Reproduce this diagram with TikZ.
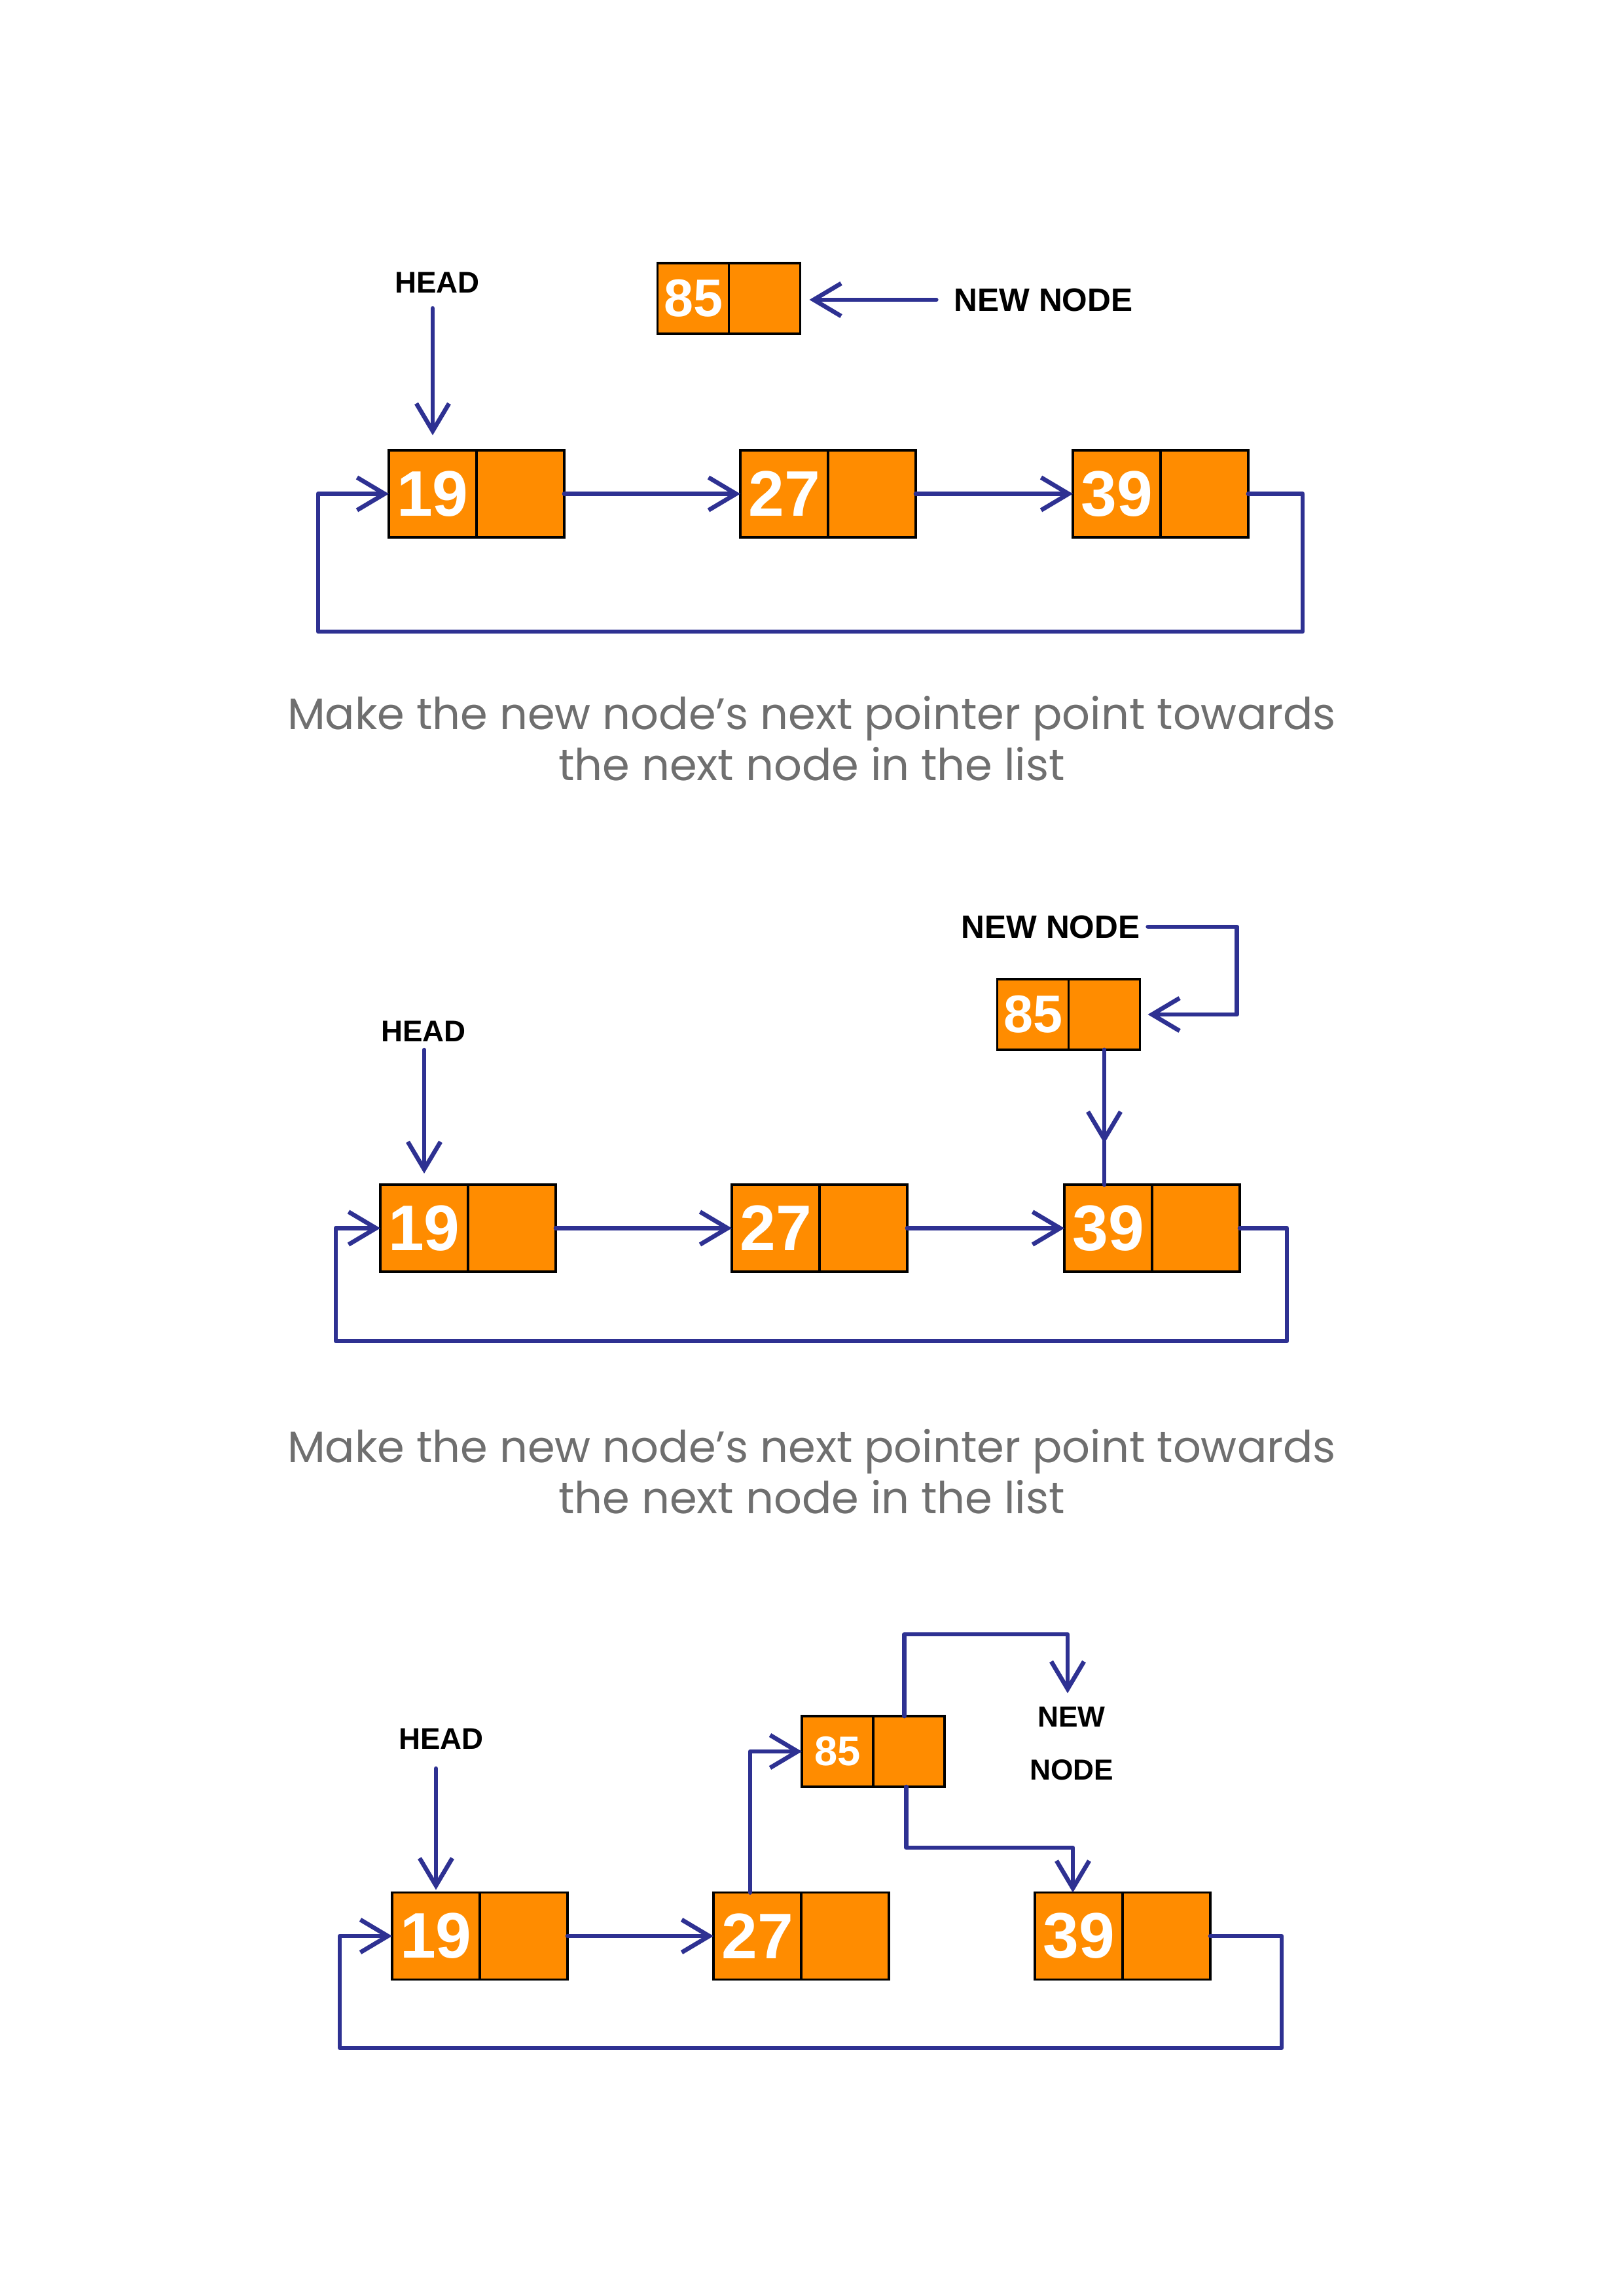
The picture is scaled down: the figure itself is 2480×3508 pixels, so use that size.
\documentclass[tikz,border=0pt]{standalone}
\usepackage{fontspec}
\setmainfont{Liberation Sans}
\newfontfamily\capfont{Poppins}
\usetikzlibrary{positioning, arrows.meta}
\definecolor{cOrange}{HTML}{FF8C00}
\definecolor{cLink}{HTML}{2E3192}
\definecolor{cCaption}{HTML}{6F6F6F}
\tikzset{
  cell/.style={
    draw=black, line width=0.9pt,
    fill=cOrange,
    inner sep=0pt, outer sep=0pt,
    text=white
  },
  datacell/.style={
    cell,
    minimum width=13.4mm,
    minimum height=13.3mm,
    font=\bfseries\fontsize{28}{28}\selectfont
  },
  nextcell/.style={
    cell,
    minimum width=13.4mm,
    minimum height=13.3mm
  },
  newdata/.style={
    cell,
    minimum width=10.9mm,
    minimum height=10.8mm,
    font=\bfseries\fontsize{#1}{#1}\selectfont
  },
  newdata/.default=23,
  newnext/.style={
    cell,
    minimum width=10.9mm,
    minimum height=10.8mm
  },
  tag/.style={
    font=\bfseries\fontsize{#1}{15}\selectfont
  },
  tag/.default=13,
  caption/.style={
    font=\capfont\fontsize{19.1}{22.2}\selectfont,
    text=cCaption,
    align=center
  },
  link/.style={
    -{Straight Barb[length=4.2mm,width=5mm]},
    line width=1.9pt,
    draw=cLink,
    line join=round, line cap=round
  },
  wire/.style={link, -}
}

\begin{document}
\begin{tikzpicture}[x=0.1mm, y=-0.1mm]
  \useasboundingbox (0,0) rectangle (2480,3508);

  % first step
  \node[datacell] (n19a) at (661,754.5) {19};
  \node[nextcell, right=0pt of n19a] (p19a) {};
  \node[datacell] (n27a) at (1198,754.5) {27};
  \node[nextcell, right=0pt of n27a] (p27a) {};
  \node[datacell] (n39a) at (1706,754.5) {39};
  \node[nextcell, right=0pt of n39a] (p39a) {};
  \node[newdata] (n85a) at (1059,456) {85};
  \node[newnext, right=0pt of n85a] (p85a) {};
  \node[tag] (head1) at (668,432) {HEAD};
  \node[tag=14.1] (new1) at (1594,458) {NEW NODE};
  \coordinate (ra) at (1990,965);
  \coordinate (la) at (486,965);

  \draw[link, shorten <=1.1mm, shorten >=2.3mm] (n19a.north |- head1.south) -- (n19a.north);
  \draw[link, shorten <=1.5mm, shorten >=1.4mm] (new1.west) -- (new1.west -| p85a.east);
  \draw[link] (p19a) -- (n27a);
  \draw[link] (p27a) -- (n39a);
  \draw[link] (p39a.east) -| (ra) -- (la) |- (n19a.west);

  \node[caption] (cap1) at (1240,1128) {Make the new node’s next pointer point towards\\the next node in the list};

  % second step
  \node[datacell] (n19b) at (648,1876.5) {19};
  \node[nextcell, right=0pt of n19b] (p19b) {};
  \node[datacell] (n27b) at (1185,1876.5) {27};
  \node[nextcell, right=0pt of n27b] (p27b) {};
  \node[datacell] (n39b) at (1693,1876.5) {39};
  \node[nextcell, right=0pt of n39b] (p39b) {};
  \node[newdata] (n85b) at (1578,1550) {85};
  \node[newnext, right=0pt of n85b] (p85b) {};
  \node[tag] (head2) at (647,1576) {HEAD};
  \node[tag=14.1] (new2) at (1605,1416) {NEW NODE};
  \coordinate (rb) at (1966,2049);
  \coordinate (lb) at (513,2049);

  \draw[link, shorten >=1.7mm] (n19b.north |- head2.south) -- (n19b.north);
  \draw[link, shorten >=1.2mm] (new2.east) -| ++(136,134) -- (p85b.east);
  \draw[wire] (p85b.south) -- (p85b.south |- n39b.north);
  \draw[link] (p85b.south) -- ++(0,143);
  \draw[link] (p19b) -- (n27b);
  \draw[link] (p27b) -- (n39b);
  \draw[link] (p39b.east) -| (rb) -- (lb) |- (n19b.west);

  \node[caption] (cap2) at (1240,2248) {Make the new node’s next pointer point towards\\the next node in the list};

  % third step
  \node[datacell] (n19c) at (666,2958) {19};
  \node[nextcell, right=0pt of n19c] (p19c) {};
  \node[datacell] (n27c) at (1157,2958) {27};
  \node[nextcell, right=0pt of n27c] (p27c) {};
  \node[datacell] (n39c) at (1648,2958) {39};
  \node[nextcell, right=0pt of n39c] (p39c) {};
  \node[newdata=18] (n85c) at (1279.5,2676) {85};
  \node[newnext, right=0pt of n85c] (p85c) {};
  \node[tag] (head3) at (674,2657) {HEAD};
  \node[tag, align=center, font=\bfseries\fontsize{12.6}{22.8}\selectfont] (new3) at (1637,2664) {NEW\\NODE};
  \coordinate (rc) at (1958,3129);
  \coordinate (lc) at (519,3129);

  \draw[link, shorten <=1.7mm, shorten >=0.4mm] (n19c.north |- head3.south) -- (n19c.north);
  \draw[link] (p19c) -- (n27c);
  \draw[link] ([xshift=-1.1mm]n27c.north) |- (n85c.west);
  \draw[link, shorten >=0.9mm] ([xshift=-0.7mm]p85c.north) -- ++(0,-125) -| ([xshift=-0.6mm]new3.north);
  \draw[link] ([xshift=-0.4mm]p85c.south) -- ++(0,93) -| ([xshift=-0.9mm]n39c.north);
  \draw[link] (p39c.east) -| (rc) -- (lc) |- (n19c.west);
\end{tikzpicture}
\end{document}
